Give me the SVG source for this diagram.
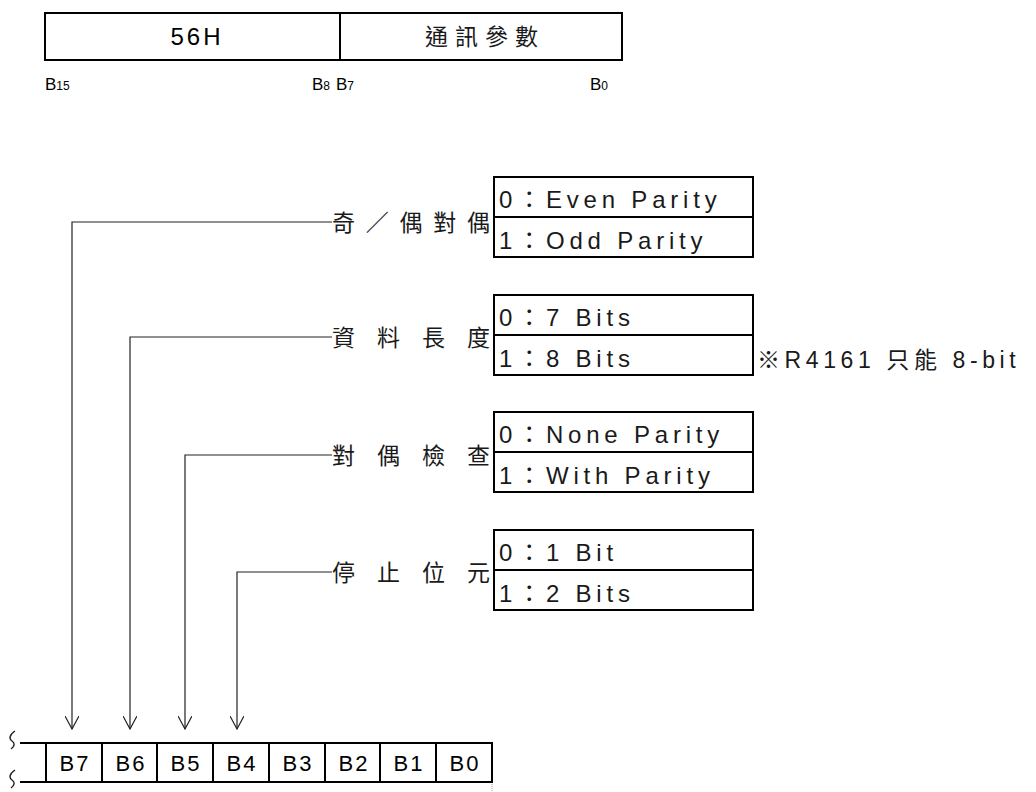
<svg xmlns="http://www.w3.org/2000/svg" width="1036" height="792" viewBox="0 0 1036 792">
<style>
.box{fill:none;stroke:#000;stroke-width:2}
.ln{fill:none;stroke:#222;stroke-width:1.2}
.brk{fill:none;stroke:#222;stroke-width:1.4}
.en{font-family:"Liberation Sans",Arial,sans-serif;fill:#000}
.cj{font-family:"Liberation Sans","Noto Sans CJK TC",sans-serif;fill:#1a1a1a}
.opt{font-size:24px;letter-spacing:4.8px}
.lbl{font-size:23px}
.sub{font-size:12px}
.bl{font-size:17px}
.reg{font-size:22px;letter-spacing:2px}
</style>
<defs>
<marker id="arr" viewBox="0 0 14 14" refX="13" refY="7" markerWidth="14" markerHeight="14" markerUnits="userSpaceOnUse" orient="auto">
<path d="M0,0 L13,7 L0,14" fill="none" stroke="#222" stroke-width="1.2"/>
</marker>
</defs>
<g id="header">
<rect class="box" x="45" y="13" width="577" height="47"/>
<line class="box" x1="340" y1="13" x2="340" y2="60"/>
<text class="en" x="197" y="45" font-size="24" letter-spacing="3" text-anchor="middle">56H</text>
<text class="cj" x="485" y="45" font-size="23" letter-spacing="7" text-anchor="middle">通訊參數</text>
<text class="en bl" x="45" y="90">B<tspan class="sub">15</tspan></text>
<text class="en bl" x="312" y="90">B<tspan class="sub">8</tspan></text>
<text class="en bl" x="336" y="90">B<tspan class="sub">7</tspan></text>
<text class="en bl" x="590" y="90">B<tspan class="sub">0</tspan></text>
</g>
<g id="parity-type">
<rect class="box" x="494" y="177" width="259" height="80"/>
<line class="box" x1="494" y1="217" x2="753" y2="217"/>
<text class="cj opt" x="499" y="208">0：Even Parity</text>
<text class="cj opt" x="499" y="249">1：Odd Parity</text>
<text class="cj lbl" x="332" y="231" textLength="158" lengthAdjust="spacing">奇／偶對偶</text>
</g>
<g id="data-length">
<rect class="box" x="494" y="295" width="259" height="80"/>
<line class="box" x1="494" y1="335" x2="753" y2="335"/>
<text class="cj opt" x="499" y="326">0：7 Bits</text>
<text class="cj opt" x="499" y="367">1：8 Bits</text>
<text class="cj lbl" x="332" y="346" textLength="158" lengthAdjust="spacing">資料長度</text>
<text class="cj" x="757" y="368" font-size="23" letter-spacing="4.6">※R4161 只能 8-bit</text>
</g>
<g id="parity-check">
<rect class="box" x="494" y="412" width="259" height="80"/>
<line class="box" x1="494" y1="452" x2="753" y2="452"/>
<text class="cj opt" x="499" y="443">0：None Parity</text>
<text class="cj opt" x="499" y="484">1：With Parity</text>
<text class="cj lbl" x="332" y="464" textLength="158" lengthAdjust="spacing">對偶檢查</text>
</g>
<g id="stop-bit">
<rect class="box" x="494" y="530" width="259" height="80"/>
<line class="box" x1="494" y1="570" x2="753" y2="570"/>
<text class="cj opt" x="499" y="561">0：1 Bit</text>
<text class="cj opt" x="499" y="602">1：2 Bits</text>
<text class="cj lbl" x="332" y="581" textLength="158" lengthAdjust="spacing">停止位元</text>
</g>
<g id="connectors">
<path class="ln" d="M332,222 H72 V729" marker-end="url(#arr)"/>
<path class="ln" d="M332,337 H130 V729" marker-end="url(#arr)"/>
<path class="ln" d="M332,455 H185 V729" marker-end="url(#arr)"/>
<path class="ln" d="M332,572 H237 V729" marker-end="url(#arr)"/>
</g>
<g id="register">
<line class="box" x1="20" y1="743" x2="493" y2="743"/>
<line class="box" x1="20" y1="782" x2="493" y2="782"/>
<path class="brk" d="M15,731 C9,735 9,739 12,741 C15,743 15,746 11,749"/>
<path class="brk" d="M15,770 C9,774 9,778 12,780 C15,782 15,785 11,788"/>
<g class="box">
<line x1="46" y1="743" x2="46" y2="782"/>
<line x1="102" y1="743" x2="102" y2="782"/>
<line x1="157" y1="743" x2="157" y2="782"/>
<line x1="213" y1="743" x2="213" y2="782"/>
<line x1="269" y1="743" x2="269" y2="782"/>
<line x1="325" y1="743" x2="325" y2="782"/>
<line x1="380" y1="743" x2="380" y2="782"/>
<line x1="436" y1="743" x2="436" y2="782"/>
<line x1="492" y1="743" x2="492" y2="782"/>
</g>
<line x1="492" y1="784" x2="492" y2="792" stroke="#999" stroke-width="1" stroke-dasharray="1,1"/>
<g class="en reg" text-anchor="middle">
<text x="75" y="771">B7</text>
<text x="131" y="771">B6</text>
<text x="186" y="771">B5</text>
<text x="242" y="771">B4</text>
<text x="298" y="771">B3</text>
<text x="354" y="771">B2</text>
<text x="409" y="771">B1</text>
<text x="465" y="771">B0</text>
</g>
</g>
</svg>
